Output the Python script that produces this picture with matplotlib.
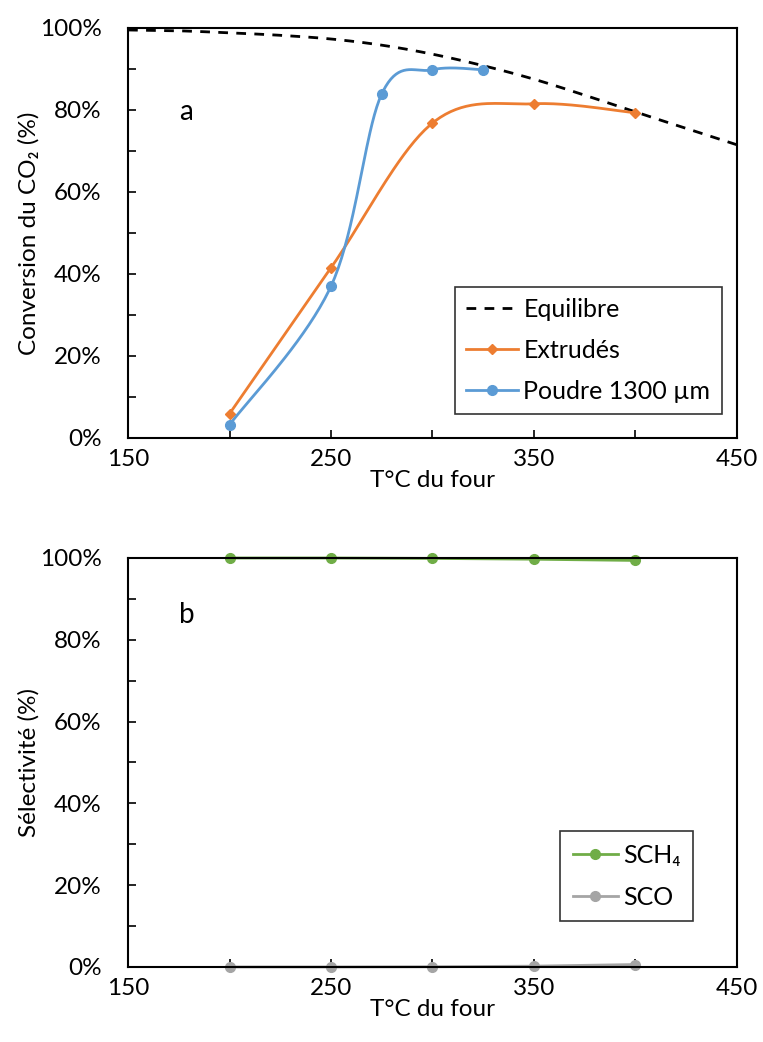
import matplotlib
matplotlib.use("Agg")
import matplotlib.pyplot as plt
from matplotlib.ticker import MultipleLocator, FuncFormatter, FixedLocator
import numpy as np

plt.rcParams['font.family'] = ['Lato', 'DejaVu Sans']

# data
T_eq = [150, 175, 200, 225, 250, 275, 300, 325, 350, 375, 400, 425, 450]
conv_eq = [99.5, 99.3, 98.8, 98.2, 97.3, 95.8, 93.6, 90.8, 87.5, 83.6, 79.5, 75.5, 71.5]

T_extr = [200, 250, 300, 350, 400]
conv_extr = [5.9, 41.5, 76.8, 81.5, 79.3]

T_poud = [200, 250, 275, 300, 325]
conv_poud = [3.2, 37.0, 83.9, 89.8, 89.8]

T_sel = [200, 250, 300, 350, 400]
s_ch4 = [100.0, 100.0, 99.9, 99.7, 99.4]
s_co = [0.0, 0.0, 0.05, 0.2, 0.6]

ORANGE = '#ED7D31'
BLUE = '#5B9BD5'
GREEN = '#70AD47'
GREY = '#A5A5A5'

FS = 17.5


def smooth(x, y, n=40):
    # Catmull-Rom, close to Excel's smoothed lines
    x = np.asarray(x, float)
    y = np.asarray(y, float)
    P = np.column_stack([x, y])
    P = np.vstack([P[0], P, P[-1]])
    out = []
    t = np.linspace(0, 1, n)
    for i in range(1, len(P) - 2):
        p0, p1, p2, p3 = P[i - 1], P[i], P[i + 1], P[i + 2]
        c1 = p1 + (p2 - p0) / 6
        c2 = p2 - (p3 - p1) / 6
        seg = ((1 - t) ** 3)[:, None] * p1 + (3 * (1 - t) ** 2 * t)[:, None] * c1 \
            + (3 * (1 - t) * t ** 2)[:, None] * c2 + (t ** 3)[:, None] * p2
        out.append(seg if i == 1 else seg[1:])
    out = np.vstack(out)
    return out[:, 0], out[:, 1]


def style_axes(ax):
    ax.set_xlim(150, 450)
    ax.set_ylim(0, 100)
    ax.xaxis.set_major_locator(FixedLocator([150, 250, 350, 450]))
    ax.xaxis.set_minor_locator(MultipleLocator(50))
    ax.yaxis.set_major_locator(MultipleLocator(20))
    ax.yaxis.set_minor_locator(MultipleLocator(10))
    ax.yaxis.set_major_formatter(FuncFormatter(lambda v, p: '%d%%' % v))
    ax.tick_params(which='both', direction='in', length=6, width=1.2,
                   labelsize=FS, top=False, right=False)
    ax.tick_params(axis='x', pad=8)
    ax.tick_params(axis='y', pad=19)
    for s in ax.spines.values():
        s.set_linewidth(1.5)
        s.set_color('black')
    ax.set_xlabel('T°C du four', fontsize=FS, labelpad=0)


fig = plt.figure(figsize=(7.63, 10.42), dpi=100)
ax1 = fig.add_axes([0.1678, 0.5797, 0.798, 0.3935])
ax2 = fig.add_axes([0.1678, 0.0720, 0.798, 0.3925])

# top: conversion
xs, ys = smooth(T_eq, conv_eq)
ax1.plot(xs, ys, color='black', lw=2, ls=(0, (3.5, 3)), label='Equilibre')
xs, ys = smooth(T_extr, conv_extr)
ax1.plot(xs, ys, color=ORANGE, lw=2)
ax1.plot(T_extr, conv_extr, ls='none', marker='D', ms=5, color=ORANGE)
xs, ys = smooth(T_poud, conv_poud)
ax1.plot(xs, ys, color=BLUE, lw=2)
ax1.plot(T_poud, conv_poud, ls='none', marker='o', ms=7, color=BLUE)
h_eq = ax1.lines[0]
h_ex, = ax1.plot([], [], color=ORANGE, lw=2, marker='D', ms=5, label='Extrudés')
h_po, = ax1.plot([], [], color=BLUE, lw=2, marker='o', ms=7, label='Poudre 1300 µm')
style_axes(ax1)
ax1.set_ylabel('Conversion du CO₂ (%)', fontsize=FS, labelpad=0)
ax1.text(175, 79.5, 'a', fontsize=20, va='center')
leg = ax1.legend(handles=[h_eq, h_ex, h_po], loc='lower right',
                 bbox_to_anchor=(0.975, 0.058), fontsize=18, frameon=True,
                 fancybox=False, edgecolor='black', handlelength=2.1,
                 handletextpad=0.2, labelspacing=0.72, borderpad=0.45,
                 borderaxespad=0)
leg.get_frame().set_linewidth(1.2)

# bottom: selectivity
ax2.plot(T_sel, s_ch4, color=GREEN, lw=2, marker='o', ms=7, label='SCH₄', clip_on=False)
ax2.plot(T_sel, s_co, color=GREY, lw=2, marker='o', ms=7, label='SCO', clip_on=False)
style_axes(ax2)
ax2.set_ylabel('Sélectivité (%)', fontsize=FS, labelpad=0)
ax2.text(175, 86, 'b', fontsize=20, va='center')
leg2 = ax2.legend(loc='lower right', bbox_to_anchor=(0.928, 0.112), fontsize=18,
                  frameon=True, fancybox=False, edgecolor='black',
                  handlelength=1.8, handletextpad=0.2, labelspacing=0.75,
                  borderpad=0.5, borderaxespad=0)
leg2.get_frame().set_linewidth(1.2)

fig.savefig('out.png', dpi=100)
